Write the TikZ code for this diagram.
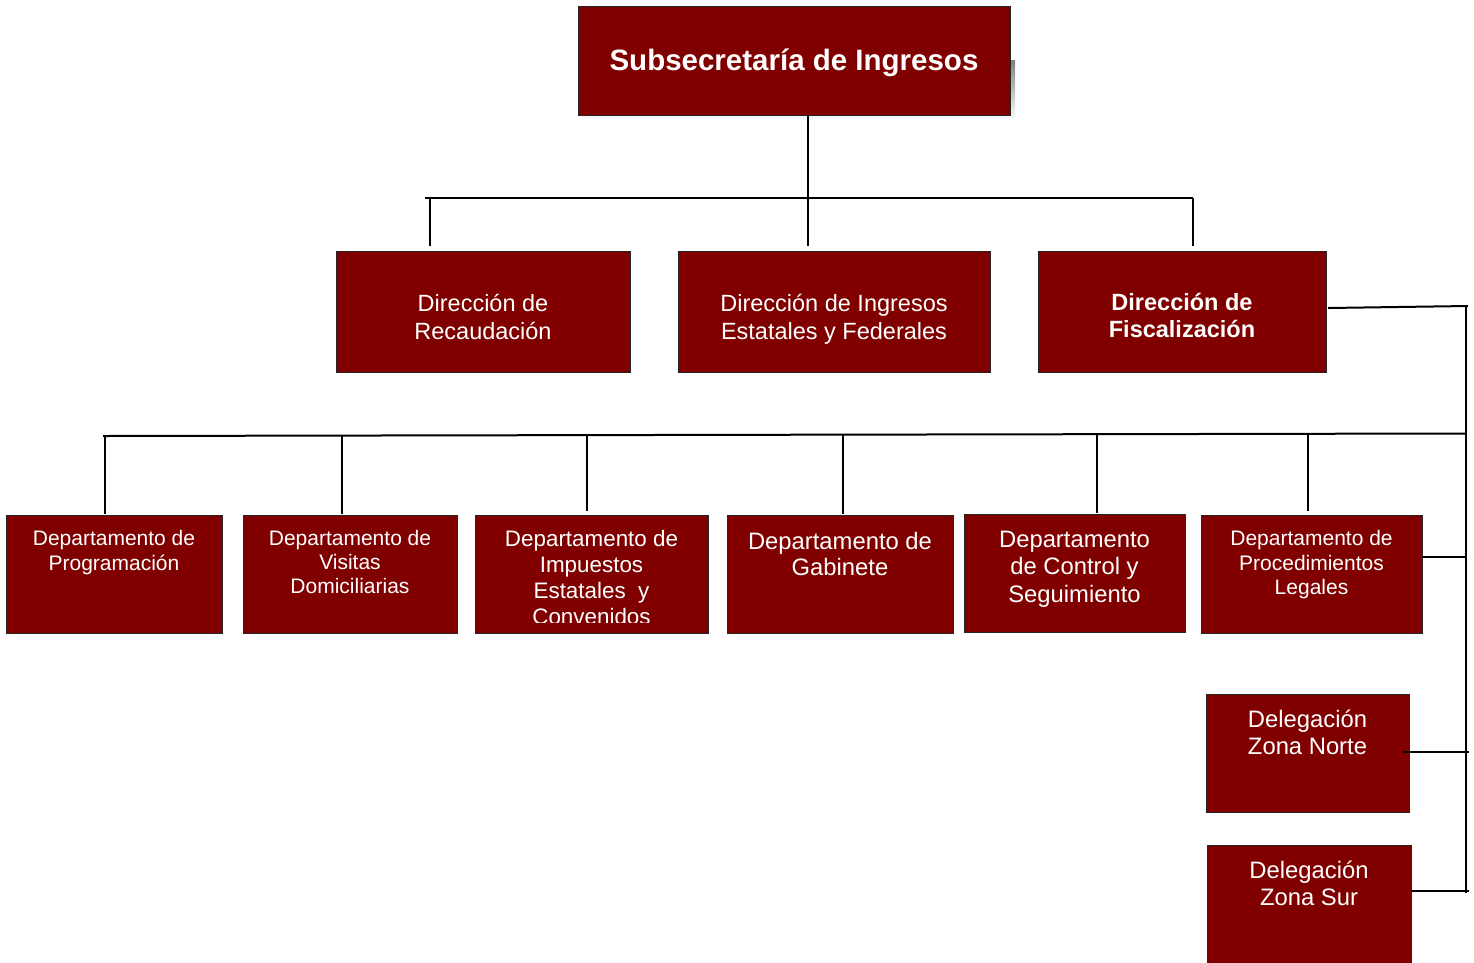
\documentclass[tikz,border=0pt]{standalone}
\usepackage{fontspec}
\setmainfont{Liberation Sans}
\usetikzlibrary{calc}
\definecolor{boxred}{HTML}{800000}
\definecolor{boxedge}{HTML}{262626}
\definecolor{shade}{HTML}{777777}
\newcommand\fsz[2]{\fontsize{#1}{#2}\selectfont}
\tikzset{
  orgbox/.style={draw=boxedge, fill=boxred, line width=1.3pt, inner sep=0pt, anchor=north west},
  lbl/.style={text=white, align=center, inner sep=0pt, anchor=north},
  conn/.style={draw=black, line width=2pt},
}
% box: name, left, top, width, height
\newcommand\orgunit[5]{\node[orgbox, minimum width=#4pt, minimum height=#5pt] (#1) at (#2,#3) {};}
\begin{document}
\begin{tikzpicture}[x=1pt, y=-1pt]
\useasboundingbox (0,0) rectangle (1474,962);

% head office with its drop shadow
\fill[shade] (582,60) rectangle (1015,120.5);
\orgunit{sub}{578}{6}{432}{109}
\node[text=white, inner sep=0pt, anchor=base, font=\fsz{29.5}{34}\bfseries] (sub-t) at (794,70) {Subsecretaría de Ingresos};

% directorates
\orgunit{rec}{336}{251}{294}{121}
\orgunit{ing}{678}{251}{312}{121}
\orgunit{fis}{1038}{251}{288}{121}
\node[lbl, font=\fsz{23.5}{28}] (rec-t) at (483,291.4) {\strut Dirección de\\Recaudación};
\node[lbl, font=\fsz{23.5}{28}] (ing-t) at (834,291.4) {\strut Dirección de Ingresos\\Estatales y Federales};
\node[lbl, font=\fsz{23.5}{27}\bfseries] (fis-t) at (1182,291.1) {\strut Dirección de\\Fiscalización};

% departments
\orgunit{prog}{6}{515}{216}{118}
\orgunit{vis}{243}{515}{214}{118}
\orgunit{imp}{475}{515}{233}{118}
\orgunit{gab}{727}{515}{226}{118}
\orgunit{ctl}{964}{514}{221}{118}
\orgunit{proc}{1201}{515}{221}{118}
\node[lbl, font=\fsz{21}{25}] (prog-t) at (114,528) {\strut Departamento de\\Programación};
\node[lbl, font=\fsz{21}{24}] (vis-t) at (350,528.9) {\strut Departamento de\\Visitas\\Domiciliarias};
\begin{scope}
  % the last line runs past the bottom of its box and is cut off
  \clip (imp.north west) rectangle ($(imp.south east)+(0,-12)$);
  \node[lbl, font=\fsz{22.4}{26}] (imp-t) at (591.5,527.8) {\strut Departamento de\\Impuestos\\Estatales\ \ y\\Convenidos};
\end{scope}
\node[lbl, font=\fsz{23.8}{26.5}] (gab-t) at (840,530.5) {\strut Departamento de\\Gabinete};
\node[lbl, font=\fsz{23.8}{27.5}] (ctl-t) at (1074.5,527.8) {\strut Departamento\\de Control y\\Seguimiento};
\node[lbl, font=\fsz{21}{24.5}] (proc-t) at (1311.5,528.4) {\strut Departamento de\\Procedimientos\\Legales};

% regional delegations
\orgunit{nor}{1206}{694}{203}{118}
\orgunit{sur}{1207}{845}{204}{130}
\node[lbl, font=\fsz{23.8}{27}] (nor-t) at (1307.5,708.6) {\strut Delegación\\Zona Norte};
\node[lbl, font=\fsz{23.8}{27}] (sur-t) at (1309,859.6) {\strut Delegación\\Zona Sur};

% connector points
\coordinate (stem-top) at (808,115);
\coordinate (stem-bot) at (808,246);
\coordinate (busA-l) at (425,198);
\coordinate (busA-r) at (1193,198);
\coordinate (rec-in) at (430,246);
\coordinate (rec-up) at (430,198);
\coordinate (fis-in) at (1193,246);
\coordinate (fis-out) at (1328,308);
\coordinate (fis-end) at (1468,306);
\coordinate (spine-top) at (1466,305);
\coordinate (spine-bot) at (1466,893);
\coordinate (busB-l) at (103,436);
\coordinate (busB-r) at (1466,433.5);
\coordinate (proc-out) at (1422,557);
\coordinate (nor-out) at (1403,752);
\coordinate (nor-end) at (1469,752);
\coordinate (sur-out) at (1411,891);
\coordinate (sur-end) at (1469,891);

% head office to directorates
\draw[conn] (stem-top) -- (stem-bot);
\draw[conn] (busA-l) -- (busA-r);
\draw[conn] (rec-up) -- (rec-in);
\draw[conn] (busA-r) -- (fis-in);

% Fiscalización spine and its units
\draw[conn] (fis-out) -- (fis-end);
\draw[conn] (spine-top) -- (spine-bot);
\draw[conn] (busB-l) -- (busB-r);
\draw[conn] (105,436) -- (105,514);
\draw[conn] (342,436) -- (342,514);
\draw[conn] (587,435.5) -- (587,511);
\draw[conn] (843,435) -- (843,514);
\draw[conn] (1097,434.5) -- (1097,513);
\draw[conn] (1308,434) -- (1308,511);
\draw[conn] (proc-out) -- (proc-out -| spine-top);
\draw[conn] (nor-out) -- (nor-end);
\draw[conn] (sur-out) -- (sur-end);
\end{tikzpicture}
\end{document}
